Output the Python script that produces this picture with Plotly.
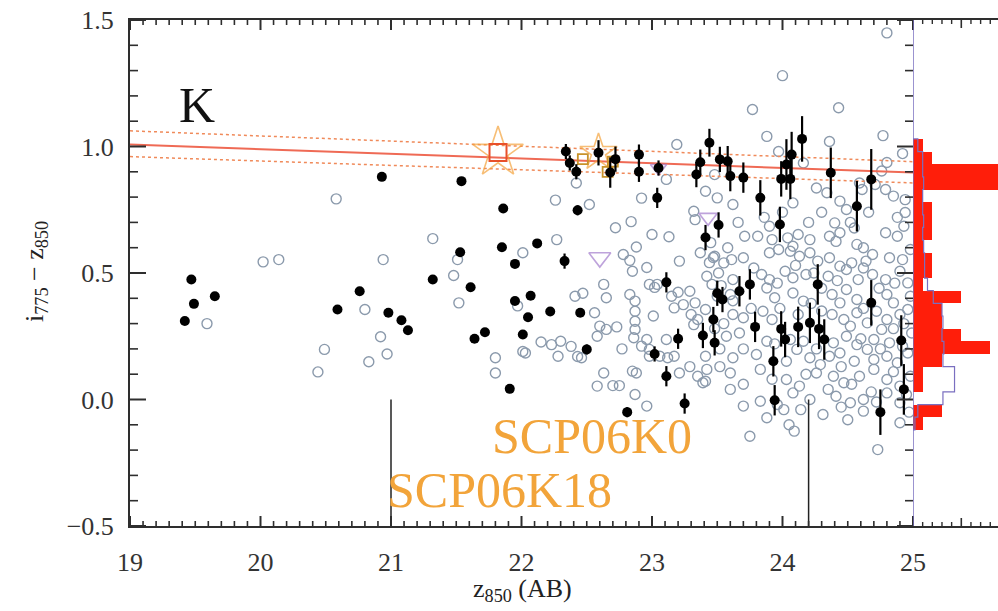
import plotly.graph_objects as go

# ---------------- data ----------------
# Cluster member candidates: z850 magnitude, i775-z850 colour, colour error
mem_mag = [19.42, 19.47, 19.49, 19.65, 20.59, 20.76, 20.93, 20.98, 21.08, 21.13,
           21.32, 21.53, 21.54, 21.61, 21.64, 21.72, 21.85, 21.86, 21.91, 21.95,
           21.95, 22.01, 22.05, 22.07, 22.12, 22.22, 22.45, 22.33, 22.34, 22.37,
           22.42, 22.43, 22.50, 22.59, 22.72, 22.68, 22.81, 22.90, 22.90, 23.04,
           23.05, 23.02, 23.11, 23.11, 23.20, 23.25, 23.44, 23.37, 23.34, 23.52,
           23.58, 23.60, 23.70, 23.51, 23.41, 23.39, 23.47, 23.48, 23.50, 23.54,
           23.67, 23.75, 23.79, 23.83, 23.98, 23.99, 24.02, 23.99, 24.06, 24.07,
           24.03, 23.93, 23.94, 24.15, 24.12, 24.21, 24.28, 24.32, 24.27, 24.37,
           24.57, 24.68, 24.68, 24.91, 24.93, 24.75]
mem_col = [0.31, 0.474, 0.378, 0.408, 0.356, 0.428, 0.88, 0.343, 0.313, 0.274,
           0.474, 0.582, 0.863, 0.444, 0.24, 0.266, 0.602, 0.755, 0.042, 0.536,
           0.389, 0.257, 0.325, 0.41, 0.617, 0.348, 0.343, 0.547, 0.98, 0.935,
           0.90, 0.748, 0.198, 0.975, 0.95, 0.897, -0.05, 0.968, 0.90, 0.797,
           0.915, 0.18, 0.463, 0.092, 0.24, -0.016, 1.015, 0.938, 0.889, 0.949,
           0.942, 0.883, 0.877, 0.69, 0.64, 0.253, 0.316, 0.224, 0.42, 0.395,
           0.428, 0.455, 0.287, 0.797, 0.692, 0.279, 0.237, 0.872, 0.872, 0.968,
           0.929, 0.151, -0.003, 1.03, 0.287, 0.303, 0.279, 0.237, 0.455, 0.896,
           0.764, 0.87, 0.382, 0.233, 0.04, -0.05]
mem_err = [0, 0, 0, 0, 0, 0, 0, 0, 0, 0,
           0, 0, 0.01, 0, 0, 0, 0, 0, 0, 0.01,
           0, 0, 0, 0, 0.01, 0.01, 0.015, 0.03, 0.03, 0.03,
           0.03, 0.02, 0.02, 0.05, 0.05, 0.06, 0.02, 0.04, 0.04, 0.04,
           0.03, 0.03, 0.04, 0.04, 0.04, 0.04, 0.055, 0.05, 0.05, 0.05,
           0.06, 0.06, 0.06, 0.05, 0.05, 0.05, 0.05, 0.05, 0.05, 0.05,
           0.06, 0.06, 0.06, 0.07, 0.07, 0.07, 0.07, 0.07, 0.08, 0.09,
           0.10, 0.06, 0.06, 0.09, 0.08, 0.08, 0.08, 0.08, 0.08, 0.10,
           0.10, 0.12, 0.09, 0.10, 0.10, 0.09]

# Other galaxies in the field (open circles)
fld_mag = (
    [19.59, 20.02, 20.14, 20.58, 20.44, 20.49, 20.80, 20.83, 20.92, 20.94,
     20.97, 21.32, 21.48, 21.51, 21.52, 21.80, 21.80, 22.01, 22.01, 21.97]
    + [22.03, 22.15, 22.23, 22.28, 22.42, 22.26, 22.52, 22.92, 22.27, 22.72,
       22.84, 23.00, 22.88, 22.78, 22.83, 22.85, 22.96, 22.98, 22.63, 22.47,
       22.41, 22.83, 23.02, 22.30, 22.38, 22.43, 22.46, 22.56, 22.60, 22.65,
       22.73, 22.58, 22.65, 22.63, 22.58, 22.70, 22.75, 22.77, 22.87, 22.87,
       22.87, 22.87, 22.86, 22.92, 22.96, 22.98, 22.88, 22.87, 22.96, 22.85,
       22.98]
    + [23.04, 23.01, 23.06, 23.12, 23.17, 23.21, 23.15, 23.20, 23.17, 23.24,
       23.29, 23.33, 23.35, 23.30, 23.32, 23.41, 23.42, 23.41, 23.35, 23.46,
       23.50, 23.29, 23.39, 23.11, 23.19, 23.11, 23.41, 23.50, 23.32, 23.33,
       23.13, 23.37, 23.47, 23.21, 23.44, 23.60, 23.70, 23.52, 23.55]
    + [24.80, 24.00, 23.77, 24.43, 23.88, 24.77, 23.97, 24.36, 24.92, 24.80,
       24.16, 23.62, 23.48, 24.08, 24.26, 24.34, 24.44, 24.49, 24.59, 24.76,
       24.79, 24.85, 24.94, 23.90, 24.40, 24.44, 24.93, 24.55, 24.08, 24.94,
       24.71, 24.61]
    + [23.71, 23.81, 23.92, 24.04, 24.12, 24.21, 24.36, 24.41, 24.57, 24.62, 24.79, 24.88]
    + [23.48, 23.55, 23.61, 23.70, 23.90, 23.97, 24.06, 24.13, 24.21, 24.27, 24.36, 24.44,
       24.53, 24.64, 24.69, 24.82, 24.92, 24.98]
    + [23.42, 23.51, 23.62, 23.84, 23.90, 24.02, 24.08, 24.18, 24.24, 24.35, 24.49, 24.58,
       24.69, 24.79, 24.90, 24.96]
    + [23.60, 23.88, 23.94, 24.08, 24.16, 24.38, 24.44, 24.49, 24.57, 24.80, 24.85, 24.98]
    + [23.41, 23.62, 23.70, 23.85, 23.92, 24.12, 24.38, 24.47, 24.57, 24.65, 24.72, 24.80,
       24.90, 24.96]
    + [23.57, 23.67, 23.88, 24.06, 24.39, 24.49, 24.57, 24.70, 24.76, 24.82, 24.99]
    + [23.62, 23.80, 24.03, 24.11, 24.21, 24.29, 24.36, 24.44, 24.55, 24.65, 24.70, 24.80,
       24.88, 24.96]
    + [23.60, 23.83, 24.03, 24.13, 24.26, 24.39, 24.47, 24.59, 24.70, 24.80, 24.90, 24.98]
    + [23.83, 24.08, 24.21, 24.41, 24.52, 24.62, 24.80, 24.90]
    + [23.88, 24.01, 24.31, 24.62, 24.90, 23.75, 24.09, 24.73]
    + [23.45, 23.58, 23.66, 23.86, 24.00, 24.20, 24.30, 24.52, 24.66, 24.88,
       23.53, 23.78, 23.96, 24.10, 24.30, 24.42, 24.62, 24.74, 24.86,
       23.48, 23.62, 23.76, 23.98, 24.22, 24.30, 24.52, 24.62, 24.85, 24.93,
       23.52, 23.70, 23.94, 24.16, 24.26, 24.45, 24.60, 24.75, 24.92,
       23.70, 23.92, 24.18, 24.35, 24.53, 24.68, 24.85, 24.95,
       23.96, 24.14, 24.45, 24.72, 24.97, 24.50, 24.05]
)
fld_col = (
    [0.30, 0.544, 0.553, 0.793, 0.109, 0.198, 0.356, 0.149, 0.248, 0.553,
     0.18, 0.636, 0.49, 0.553, 0.382, 0.165, 0.105, 0.58, 0.19, 0.37]
    + [0.184, 0.227, 0.217, 0.171, 0.856, 0.788, 0.771, 0.796, 0.632, 0.679,
       0.703, 0.652, 0.603, 0.573, 0.550, 0.507, 0.522, 0.455, 0.455, 0.42,
       0.408, 0.415, 0.443, 0.23, 0.21, 0.17, 0.165, 0.343, 0.29, 0.277,
       0.287, 0.25, 0.402, 0.105, 0.053, 0.055, 0.055, 0.20, 0.389, 0.349,
       0.309, 0.277, 0.244, 0.211, 0.237, 0.198, 0.105, 0.02, -0.026, 0.112,
       0.171]
    + [0.455, 0.33, 0.171, 0.165, 0.171, 0.105, 0.408, 0.424, 0.362, 0.375,
       0.428, 0.382, 0.316, 0.336, 0.296, 0.171, 0.119, 0.072, 0.092, 0.455,
       0.408, 0.13, 0.066, 0.237, 1.008, 0.87, 0.823, 0.797, 0.744, 0.711,
       0.643, 0.58, 0.561, 0.547, 0.541, 0.04, -0.026, 0.20, 0.30]
    + [1.449, 1.28, 1.146, 1.153, 1.04, 1.043, 0.98, 1.02, 0.972, 0.937,
       0.935, 0.771, 0.889, 0.777, 0.836, 0.817, 0.784, 0.751, 0.856, 0.903,
       0.83, 0.804, 0.79, 0.685, 0.698, 0.659, 0.685, 0.678, 0.606, 0.739,
       0.85, 0.83]
    + [0.645, 0.645, 0.632, 0.639, 0.652, 0.632, 0.645, 0.625, 0.613, 0.60, 0.659, 0.645]
    + [0.566, 0.54, 0.553, 0.56, 0.58, 0.593, 0.586, 0.566, 0.58, 0.547, 0.56, 0.527,
       0.54, 0.547, 0.573, 0.56, 0.553, 0.593]
    + [0.487, 0.50, 0.474, 0.494, 0.474, 0.507, 0.481, 0.494, 0.50, 0.487, 0.514, 0.474,
       0.494, 0.474, 0.507, 0.461]
    + [0.415, 0.441, 0.402, 0.421, 0.389, 0.415, 0.382, 0.435, 0.395, 0.415, 0.382, 0.408]
    + [0.356, 0.336, 0.323, 0.349, 0.316, 0.336, 0.336, 0.316, 0.343, 0.303, 0.349, 0.316,
       0.336, 0.356]
    + [0.25, 0.263, 0.23, 0.237, 0.224, 0.25, 0.217, 0.237, 0.277, 0.224, 0.263]
    + [0.165, 0.178, 0.151, 0.198, 0.165, 0.138, 0.171, 0.184, 0.151, 0.198, 0.158, 0.171,
       0.145, 0.184]
    + [0.105, 0.119, 0.079, 0.053, 0.105, 0.092, 0.066, 0.092, 0.119, 0.079, 0.053, 0.092]
    + [-0.007, 0.026, 0.0, 0.013, -0.013, 0.0, 0.026, -0.013]
    + [-0.072, -0.04, -0.059, -0.046, -0.092, -0.145, -0.125, -0.198]
    + [0.62, 0.60, 0.70, 0.72, 0.74, 0.70, 0.74, 0.70, 0.74, 0.72,
       0.45, 0.52, 0.46, 0.53, 0.44, 0.47, 0.52, 0.44, 0.46,
       0.28, 0.39, 0.36, 0.36, 0.38, 0.35, 0.29, 0.36, 0.28, 0.30,
       0.13, 0.20, 0.22, 0.23, 0.20, 0.13, 0.24, 0.20, 0.21,
       0.06, 0.08, 0.10, 0.04, 0.06, 0.03, 0.11, 0.02,
       -0.02, -0.04, -0.03, -0.01, -0.05, -0.08, -0.10]
)
assert len(fld_mag) == len(fld_col)
assert len(mem_mag) == len(mem_col) == len(mem_err)

# Spectroscopically confirmed hosts (stars), early-type (squares), late-type (triangles)
star_mag = [21.82, 22.59]
star_col = [0.976, 0.976]
star_size = [38, 28]
sq_mag = [21.82]
sq_col = [0.976]
osq_mag = [22.47, 22.70, 22.66]
osq_col = [0.95, 0.94, 0.90]
tri_mag = [22.60, 23.43, 23.05]
tri_col = [0.561, 0.72, 0.915]
tri_size = [19, 16, 14]

# Red-sequence fit and its scatter envelope
fit_mag = [19.0, 25.0]
fit_col = [1.008, 0.897]
fit_hi = [1.062, 0.940]
fit_lo = [0.960, 0.856]

# Supernova host magnitudes (vertical markers) and their labels
sn_mag = [21.0, 24.2]
sn_names = ["SCP06K18", "SCP06K0"]

# Colour histogram (bin edges in i775-z850, counts)
hist_edges = [1.03, 0.98, 0.93, 0.88, 0.83, 0.78, 0.73, 0.68, 0.63, 0.58, 0.53, 0.48,
              0.43, 0.38, 0.33, 0.28, 0.23, 0.18, 0.13, 0.08, 0.03, -0.02, -0.07, -0.12]
hist_members = [1, 2, 14, 14, 1, 2, 2, 2, 1, 2, 2, 1,
                5, 3, 3, 5, 8, 3, 1, 1, 0, 3, 1]
hist_all = [0.5, 1.0, 1.0, 1.1, 1.0, 1.0, 1.1, 1.0, 1.1, 1.2, 1.2, 1.5,
            2.1, 3.0, 3.1, 3.0, 3.2, 3.1, 4.3, 4.3, 3.1, 0.5, 0.2]

# Axis ticks
x_ticks = [19, 20, 21, 22, 23, 24, 25]
y_ticks = [-0.5, 0.0, 0.5, 1.0, 1.5]
x_minor_step = 0.1
y_minor_step = 0.1
h_ticks_minor = [1, 2, 3, 4, 6, 7, 8]
h_ticks_major = [5]
h_max = 8.8

# ---------------- figure ----------------
W, H = 998, 611
X0, X1 = 130 / W, 913 / W
Y0, Y1 = (H - 526) / H, (H - 20) / H
FONT = "Liberation Serif"
AXC = "#2e2e2e"
HLINE = "#7a6fc0"
xlo, xhi = x_ticks[0], x_ticks[-1]
ylo, yhi = y_ticks[0], y_ticks[-1]


def xpaper(v):
    return X0 + (v - xlo) / (xhi - xlo) * (X1 - X0)


def ypaper(v):
    return Y0 + (v - ylo) / (yhi - ylo) * (Y1 - Y0)


def hpaper(v):
    return X1 + v / h_max * (1.0 - X1)


fig = go.Figure()

# field galaxies
fig.add_trace(go.Scatter(
    x=fld_mag, y=fld_col, mode="markers",
    marker=dict(symbol="circle-open", size=10, color="#8b9aac", line=dict(width=1.4)),
))

# red-sequence fit
fig.add_trace(go.Scatter(x=fit_mag, y=fit_hi, mode="lines",
                         line=dict(color="#f08a5a", width=1.5, dash="dot")))
fig.add_trace(go.Scatter(x=fit_mag, y=fit_lo, mode="lines",
                         line=dict(color="#f08a5a", width=1.5, dash="dot")))
fig.add_trace(go.Scatter(x=fit_mag, y=fit_col, mode="lines",
                         line=dict(color="#ef6a55", width=2)))

# special objects
fig.add_trace(go.Scatter(
    x=star_mag, y=star_col, mode="markers",
    marker=dict(symbol="star-open", size=star_size, color="#f3a23c", line=dict(width=1.6)),
))
fig.add_trace(go.Scatter(
    x=sq_mag, y=sq_col, mode="markers",
    marker=dict(symbol="square-open", size=17, color="#e8502a", line=dict(width=2)),
))
fig.add_trace(go.Scatter(
    x=osq_mag, y=osq_col, mode="markers",
    marker=dict(symbol="square-open", size=10, color="#c8922a", line=dict(width=1.8)),
))
fig.add_trace(go.Scatter(
    x=tri_mag, y=tri_col, mode="markers",
    marker=dict(symbol="triangle-down-open", size=tri_size, color="#a27ccc", line=dict(width=1.6)),
))

# cluster members with colour errors
fig.add_trace(go.Scatter(
    x=mem_mag, y=mem_col, mode="markers",
    marker=dict(symbol="circle", size=10, color="black"),
    error_y=dict(type="data", array=mem_err, color="black", thickness=2.2, width=0),
))

# supernova host markers
sn_x, sn_y = [], []
for m in sn_mag:
    sn_x += [m, m, None]
    sn_y += [0.0, -0.5, None]
fig.add_trace(go.Scatter(x=sn_x, y=sn_y, mode="lines",
                         line=dict(color="#222222", width=1.5)))

# histogram of member colours (red) and scaled histogram of all galaxies (outline)
centers = [(hist_edges[i] + hist_edges[i + 1]) / 2 for i in range(len(hist_members))]
widths = [hist_edges[i] - hist_edges[i + 1] for i in range(len(hist_members))]
fig.add_trace(go.Bar(
    x=hist_members, y=centers, width=widths, orientation="h",
    marker=dict(color="#ff1e0a", line=dict(width=0)),
    xaxis="x2", yaxis="y",
))
step_x, step_y = [0], [hist_edges[0]]
for i, c in enumerate(hist_all):
    step_x += [c, c]
    step_y += [hist_edges[i], hist_edges[i + 1]]
step_x.append(0)
step_y.append(hist_edges[-1])
fig.add_trace(go.Scatter(x=step_x, y=step_y, mode="lines",
                         line=dict(color=HLINE, width=1.2),
                         xaxis="x2", yaxis="y"))

# ---------------- inward tick marks (paper-referenced) ----------------
shapes = []


def seg(x0, y0, x1, y1, width):
    shapes.append(dict(type="line", xref="paper", yref="paper",
                       x0=x0, y0=y0, x1=x1, y1=y1,
                       line=dict(color=AXC, width=width), layer="above"))


n_x = int(round((xhi - xlo) / x_minor_step))
for k in range(n_x + 1):
    v = round(xlo + k * x_minor_step, 3)
    L, wd = (10, 2.0) if v in x_ticks else (5, 1.6)
    px = xpaper(v)
    seg(px, Y0, px, Y0 + L / H, wd)
    seg(px, Y1, px, Y1 - L / H, wd)

n_y = int(round((yhi - ylo) / y_minor_step))
for k in range(n_y + 1):
    v = round(ylo + k * y_minor_step, 3)
    L, wd = (16, 2.0) if v in y_ticks else (8, 1.6)
    py = ypaper(v)
    seg(X0, py, X0 + L / W, py, wd)
    seg(X1, py, X1 - L / W, py, wd)

for vals, L, wd in ((h_ticks_minor, 4, 1.4), (h_ticks_major, 8, 1.6)):
    for v in vals:
        px = hpaper(v)
        seg(px, Y0, px, Y0 + L / H, wd)
        seg(px, Y1, px, Y1 - L / H, wd)

# histogram baseline
shapes.append(dict(type="line", xref="x2", yref="y", x0=0, x1=0, y0=ylo, y1=yhi,
                   line=dict(color=HLINE, width=1.5), layer="above"))

tick_font = dict(family=FONT, size=26, color="#333333")

fig.update_layout(
    width=W, height=H,
    margin=dict(l=0, r=0, t=0, b=0, pad=0),
    paper_bgcolor="white", plot_bgcolor="white",
    showlegend=False, bargap=0,
    font=dict(family=FONT, color="#222222"),
    xaxis=dict(
        domain=[X0, X1], range=[xlo, xhi], tickmode="array", tickvals=x_ticks,
        ticks="", showline=True, linecolor=AXC, linewidth=2, mirror=True,
        showgrid=False, zeroline=False, automargin=False, tickfont=tick_font,
        ticklabelstandoff=12,
    ),
    yaxis=dict(
        domain=[Y0, Y1], range=[ylo, yhi], tickmode="array", tickvals=y_ticks,
        tickformat=".1f", ticks="", showline=True, linecolor=AXC, linewidth=2, mirror=False,
        showgrid=False, zeroline=False, automargin=False, tickfont=tick_font,
        ticklabelstandoff=9,
    ),
    xaxis2=dict(
        domain=[X1, 1.0], range=[0, h_max], anchor="y", ticks="", showticklabels=False,
        showline=True, linecolor=AXC, linewidth=2, mirror=True,
        showgrid=False, zeroline=False, automargin=False,
    ),
    shapes=shapes,
    annotations=[
        dict(x=19.51, y=1.166, xref="x", yref="y", text="K", showarrow=False,
             xanchor="center", yanchor="middle",
             font=dict(family=FONT, size=50, color="#111111")),
        dict(x=22.54, y=-0.146, xref="x", yref="y", text=sn_names[1], showarrow=False,
             xanchor="center", yanchor="middle",
             font=dict(family=FONT, size=50, color="#f2a43a")),
        dict(x=21.835, y=-0.356, xref="x", yref="y", text=sn_names[0], showarrow=False,
             xanchor="center", yanchor="middle",
             font=dict(family=FONT, size=50, color="#f2a43a")),
        dict(x=522 / W, y=1 - 590 / H, xref="paper", yref="paper",
             xanchor="center", yanchor="middle",
             text="z<sub>850</sub> (AB)", showarrow=False,
             font=dict(family=FONT, size=26, color="#222222")),
        dict(x=36 / W, y=1 - 272 / H, xref="paper", yref="paper", textangle=-90,
             xanchor="center", yanchor="middle",
             text="i<sub>775</sub> − z<sub>850</sub>", showarrow=False,
             font=dict(family=FONT, size=26, color="#222222")),
    ],
)

fig.write_html("out.html")
